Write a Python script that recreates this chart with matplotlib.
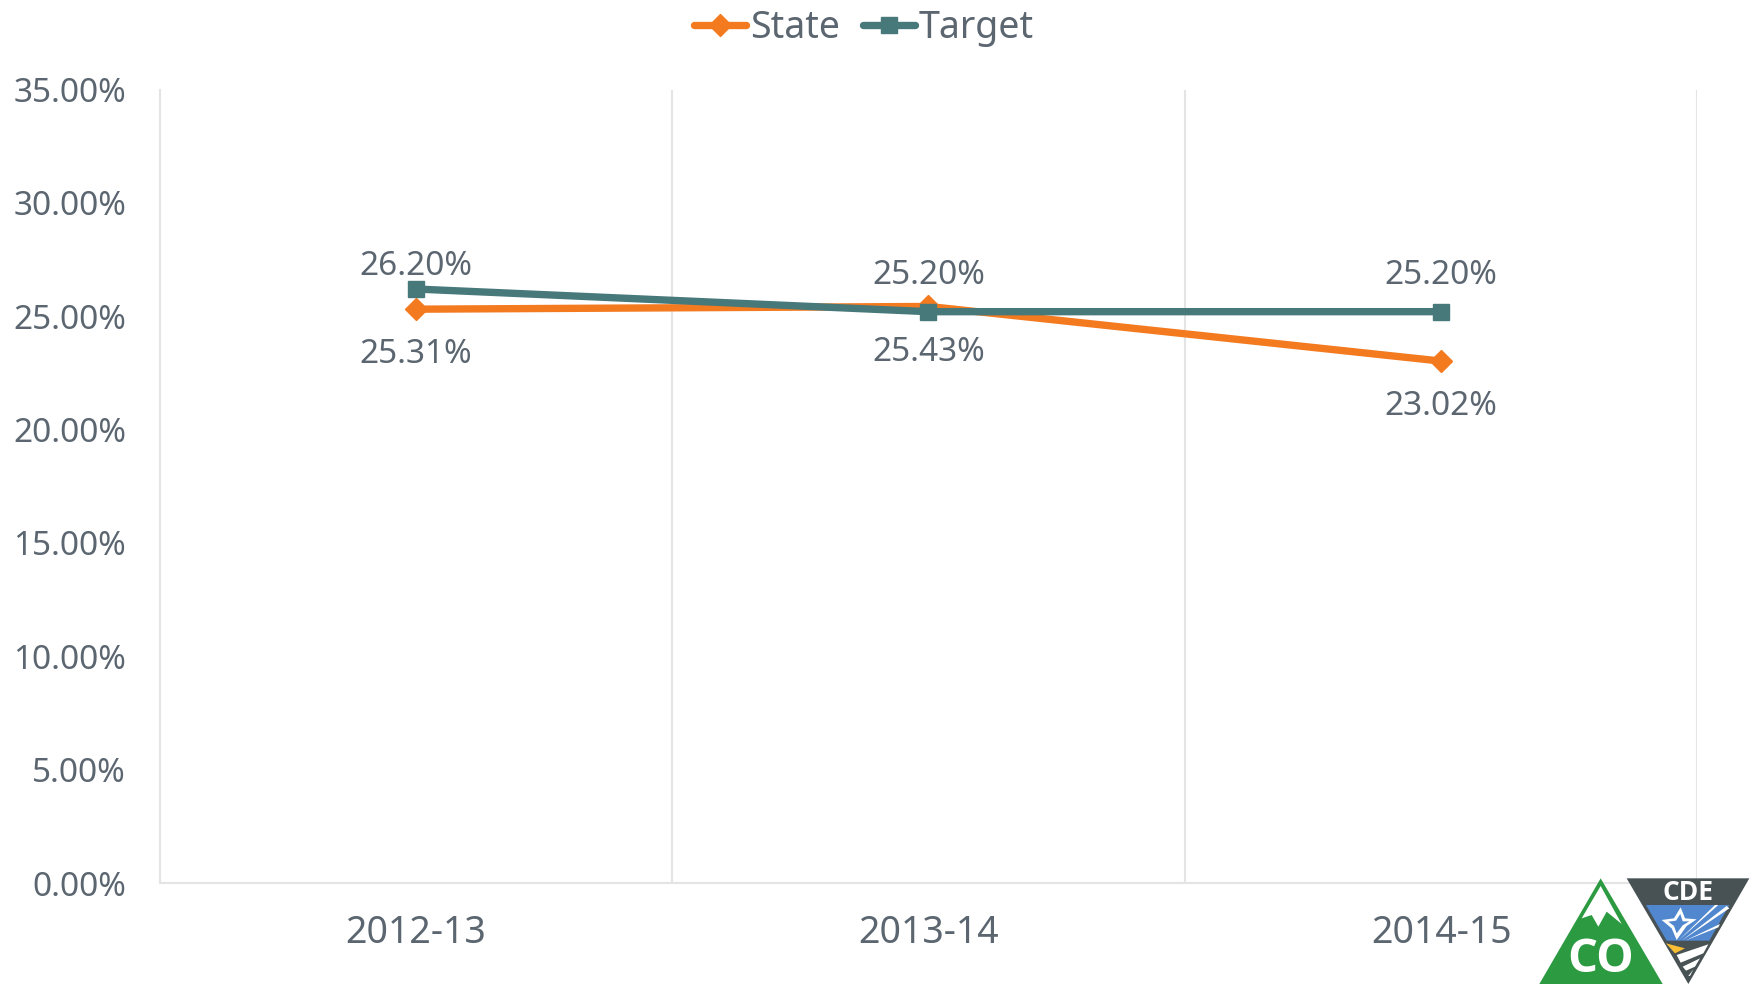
"""Chart of state rate against target, 2012-13 to 2014-15"""

import matplotlib
matplotlib.use('Agg')
import matplotlib.pyplot as plt
from matplotlib.patches import Polygon
from matplotlib.transforms import Affine2D

categories = ['2012-13', '2013-14', '2014-15']
state_values = [25.31, 25.43, 23.02]
target_values = [26.20, 25.20, 25.20]
y_ticks = [0, 5, 10, 15, 20, 25, 30, 35]

ORANGE = '#F47A20'
TEAL = '#47787A'
TEXT = '#5B6670'
GRID = '#E4E4E4'

plt.rcParams['font.family'] = ['Noto Sans', 'DejaVu Sans']

W, H = 1756, 984
fig = plt.figure(figsize=(W / 100, H / 100), dpi=100)
ax = fig.add_axes([159.5 / W, 1 - 883 / H, (1697.5 - 159.5) / W, (883 - 89.5) / H])

xs = list(range(len(categories)))
ax.plot(xs, state_values, color=ORANGE, lw=5.3, marker='D', ms=11.5, label='State',
        solid_capstyle='round', solid_joinstyle='round')
ax.plot(xs, target_values, color=TEAL, lw=5.3, marker='s', ms=12, label='Target',
        solid_capstyle='round', solid_joinstyle='round')

ax.set_xlim(-0.5, 2.5)
ax.set_ylim(0, 35)
ax.set_yticks(y_ticks)
ax.set_yticklabels([f'{v:.2f}%' for v in y_ticks])
ax.set_xticks(xs)
ax.set_xticklabels(categories)
ax.set_xticks([0.5, 1.5, 2.5], minor=True)
ax.xaxis.grid(True, which='minor', color=GRID, lw=1.5)
ax.tick_params(axis='both', which='both', length=0, colors=TEXT, labelsize=24)
ax.tick_params(axis='x', pad=22, labelsize=27)
ax.tick_params(axis='y', pad=24)
for side in ['top', 'right']:
    ax.spines[side].set_visible(False)
for side in ['left', 'bottom']:
    ax.spines[side].set_color(GRID)
    ax.spines[side].set_linewidth(1.5)

# labels: target above the line, state below
for x, s, t in zip(xs, state_values, target_values):
    ax.annotate(f'{t:.2f}%', (x, t), xytext=(0, 4 if x == 0 else 14), textcoords='offset points',
                ha='center', va='bottom', color=TEXT, fontsize=24)
    ax.annotate(f'{s:.2f}%', (x, s), xytext=(0, -21), textcoords='offset points',
                ha='center', va='top', color=TEXT, fontsize=24)

fig.legend(loc='upper center', bbox_to_anchor=(0.492, 1.025), ncol=2, frameon=False, fontsize=27,
           labelcolor=TEXT, handlelength=1.4, handletextpad=0.1, columnspacing=0.6)

# logo, drawn in pixel coordinates
to_px = Affine2D().scale(1, -1).translate(0, H)


def shape(points, color, z=5):
    px = [(1500 + a / 3, 850 + b / 3) for a, b in points]
    fig.add_artist(Polygon(px, closed=True, facecolor=color, edgecolor='none', transform=to_px, zorder=z))


shape([(302, 85), (118, 402), (488, 402)], '#2C9A41')
shape([(302, 108), (245, 205), (275, 195), (295, 230), (320, 185), (365, 222)], 'white', 6)
shape([(380, 85), (748, 85), (565, 402)], '#485153')
shape([(438, 165), (688, 165), (628, 272), (500, 272)], '#5187CE', 6)
shape([(498, 280), (555, 295), (525, 310)], '#F9BE33', 6)
shape([(530, 315), (625, 283), (610, 310), (542, 338)], 'white', 6)
shape([(548, 350), (600, 325), (585, 350), (558, 362)], 'white', 6)
shape([(565, 378), (580, 358), (570, 378)], 'white', 6)
shape([(535, 272), (645, 165), (655, 165)], 'white', 7)
shape([(545, 272), (680, 168), (688, 175)], 'white', 7)
shape([(555, 272), (660, 222), (655, 232)], 'white', 7)
shape([(485, 210), (522, 205), (542, 172), (555, 205), (590, 208), (560, 228), (530, 270),
       (515, 235)], 'white', 7)
shape([(505, 215), (528, 212), (541, 192), (548, 214), (568, 214), (548, 226), (530, 250),
       (522, 228)], '#5187CE', 8)

fig.text((1500 + 303 / 3) / W, 1 - (850 + 330 / 3) / H, 'CO', color='white', fontsize=34,
         fontweight='bold', ha='center', va='center', family='Open Sans', zorder=7)
fig.text((1500 + 565 / 3) / W, 1 - (850 + 126 / 3) / H, 'CDE', color='white', fontsize=19,
         fontweight='bold', ha='center', va='center', family='Open Sans', zorder=7)

fig.savefig('out.png', dpi=100)
